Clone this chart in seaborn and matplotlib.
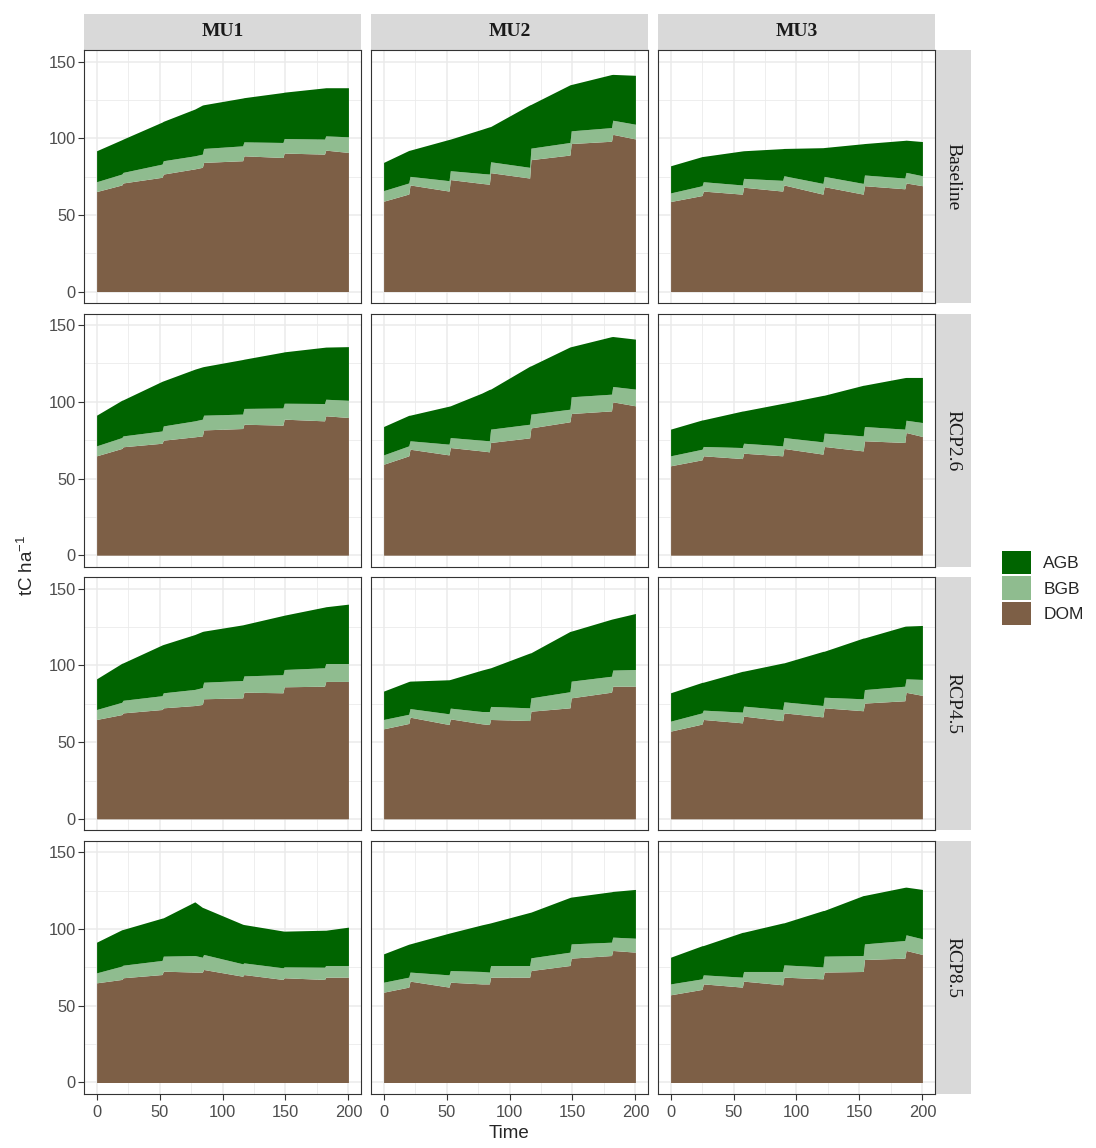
import numpy as np
import pandas as pd
import matplotlib
matplotlib.use("Agg")
import matplotlib.pyplot as plt
import seaborn as sns
from matplotlib.patches import Rectangle, Patch
from matplotlib.ticker import MultipleLocator

# time steps (harvest jumps differ a bit between MU1/MU2 and MU3)
time_mu12 = [0, 20, 21, 52, 53, 78, 84, 85, 116, 117, 148, 149, 181, 182, 200]
time_mu3 = [0, 25, 26, 57, 58, 89, 90, 121, 122, 153, 154, 186, 187, 200]

mus = ["MU1", "MU2", "MU3"]
scenarios = ["Baseline", "RCP2.6", "RCP4.5", "RCP8.5"]
pools = ["AGB", "BGB", "DOM"]

# ---- Baseline
mu1_base_dom = [65.2, 69.5, 70.8, 74.5, 76.6, 80.0, 81.0, 84.2, 85.3, 88.5, 87.4, 90.3, 89.6, 92.2, 90.7]
mu1_base_bgb = [6.4, 7.1, 6.9, 8.6, 8.7, 8.5, 8.6, 9.1, 9.7, 9.1, 9.8, 9.5, 9.8, 9.3, 10.2]
mu1_base_agb = [20.2, 22.4, 21.7, 27.4, 25.7, 30.5, 32.0, 28.5, 31.2, 28.8, 32.6, 30.2, 33.4, 31.4, 32.0]

mu2_base_dom = [58.9, 63.6, 69.5, 65.5, 73.0, 70.5, 70.0, 77.5, 74.0, 86.0, 89.0, 96.5, 98.0, 102.5, 99.5]
mu2_base_bgb = [6.9, 7.2, 5.6, 6.8, 5.8, 6.5, 6.6, 7.1, 7.0, 7.5, 8.2, 8.3, 8.9, 9.2, 9.6]
mu2_base_agb = [18.4, 21.2, 17.1, 26.9, 20.6, 28.8, 30.8, 23.0, 40.7, 28.5, 37.6, 30.2, 34.6, 29.9, 31.9]

mu3_base_dom = [58.7, 62.6, 65.5, 63.5, 68.0, 65.5, 69.5, 63.5, 68.4, 63.5, 69.0, 67.0, 70.8, 69.0]
mu3_base_bgb = [5.6, 6.4, 6.1, 6.0, 5.8, 7.0, 6.0, 7.0, 6.7, 7.0, 7.0, 7.0, 6.9, 6.5]
mu3_base_agb = [17.7, 19.0, 16.5, 22.2, 18.0, 20.7, 17.8, 23.3, 18.8, 25.9, 20.5, 24.6, 21.0, 22.3]

# ---- RCP2.6
mu1_26_dom = [64.8, 69.6, 70.7, 73.0, 75.0, 77.2, 77.8, 81.7, 82.6, 85.4, 84.8, 88.7, 87.6, 90.9, 89.8]
mu1_26_bgb = [6.5, 7.1, 7.1, 8.0, 9.3, 10.4, 10.9, 9.6, 9.4, 10.3, 11.2, 10.4, 11.3, 10.8, 11.2]
mu1_26_agb = [20.0, 24.3, 23.5, 32.4, 29.4, 33.7, 34.1, 31.7, 35.6, 32.1, 36.4, 33.5, 36.7, 34.0, 35.0]

mu2_26_dom = [59.3, 64.8, 69.1, 65.4, 70.2, 68.0, 67.4, 73.5, 76.5, 83.0, 87.0, 92.4, 94.1, 100.0, 97.4]
mu2_26_bgb = [6.1, 6.5, 5.5, 7.0, 6.5, 7.0, 7.2, 8.7, 8.9, 9.0, 8.2, 10.9, 10.9, 10.0, 10.9]
mu2_26_agb = [18.5, 19.9, 16.7, 24.8, 20.7, 30.7, 33.5, 26.1, 37.8, 31.5, 40.6, 32.7, 37.5, 32.6, 32.6]

mu3_26_dom = [58.3, 62.2, 64.8, 63.0, 66.5, 64.8, 69.6, 65.9, 70.9, 68.0, 74.6, 73.5, 80.0, 77.4]
mu3_26_bgb = [6.5, 6.9, 6.1, 7.2, 6.5, 6.5, 7.1, 8.0, 8.7, 9.8, 9.3, 8.7, 8.0, 9.1]
mu3_26_agb = [17.4, 19.1, 17.4, 23.8, 21.1, 27.7, 22.4, 30.3, 24.7, 33.0, 27.0, 33.6, 27.9, 29.4]

# ---- RCP4.5
mu1_45_dom = [64.8, 68.0, 69.1, 71.3, 72.4, 73.9, 74.6, 78.3, 78.9, 82.6, 82.2, 86.1, 86.5, 89.6, 89.6]
mu1_45_bgb = [6.5, 8.0, 8.2, 9.0, 9.8, 10.5, 11.0, 10.8, 11.3, 10.6, 11.8, 11.3, 12.0, 11.7, 11.7]
mu1_45_agb = [20.0, 25.4, 24.4, 33.1, 31.5, 35.8, 36.6, 33.3, 36.3, 33.5, 38.6, 35.4, 39.6, 37.0, 38.7]

mu2_45_dom = [58.7, 62.2, 66.3, 61.5, 65.2, 62.0, 61.5, 64.8, 64.1, 70.2, 72.4, 78.9, 82.6, 86.5, 86.5]
mu2_45_bgb = [6.1, 6.0, 5.6, 7.0, 7.0, 8.0, 8.5, 8.5, 8.3, 8.7, 10.5, 10.9, 10.4, 10.5, 10.9]
mu2_45_agb = [18.5, 21.4, 17.9, 22.2, 18.7, 27.0, 28.3, 25.2, 35.7, 29.4, 39.3, 32.6, 37.2, 33.4, 36.5]

mu3_45_dom = [57.2, 61.8, 64.8, 62.6, 67.0, 64.0, 69.1, 66.5, 72.4, 70.5, 75.5, 77.0, 82.5, 80.5]
mu3_45_bgb = [6.5, 7.3, 6.1, 7.0, 6.5, 7.3, 7.2, 7.4, 6.9, 7.8, 8.8, 9.5, 8.8, 10.4]
mu3_45_agb = [18.5, 19.9, 18.2, 26.6, 22.8, 30.3, 25.4, 35.3, 30.0, 39.6, 33.7, 39.1, 34.4, 35.2]

# ---- RCP8.5
mu1_85_dom = [65.0, 67.2, 68.3, 70.4, 72.6, 72.0, 72.0, 73.7, 69.3, 70.4, 67.2, 68.3, 67.2, 68.7, 68.7]
mu1_85_bgb = [6.5, 8.7, 8.2, 9.2, 9.8, 10.8, 9.7, 9.8, 8.1, 7.6, 7.6, 7.1, 8.0, 7.6, 7.6]
mu1_85_agb = [20.0, 23.7, 23.3, 27.6, 25.0, 35.0, 32.5, 30.4, 25.8, 25.0, 24.0, 23.3, 24.1, 23.0, 25.0]

mu2_85_dom = [58.9, 62.2, 66.1, 62.2, 65.4, 64.3, 64.3, 68.7, 68.7, 73.0, 76.3, 81.1, 82.8, 86.1, 85.0]
mu2_85_bgb = [6.5, 6.5, 5.9, 8.0, 7.6, 8.1, 7.7, 7.6, 7.6, 8.3, 8.7, 9.3, 8.7, 8.7, 9.1]
mu2_85_agb = [18.5, 21.5, 18.4, 27.2, 24.6, 30.4, 31.9, 27.8, 34.6, 29.8, 35.7, 30.5, 32.9, 29.8, 31.8]

mu3_85_dom = [57.2, 60.7, 64.3, 62.2, 66.1, 63.7, 68.7, 67.6, 72.0, 72.4, 80.2, 81.1, 86.1, 83.5]
mu3_85_bgb = [7.1, 6.9, 5.9, 6.5, 6.3, 8.7, 8.0, 7.8, 10.4, 10.4, 10.2, 11.5, 10.2, 10.2]
mu3_85_agb = [17.4, 21.6, 19.1, 29.2, 25.6, 31.6, 27.4, 36.7, 29.8, 39.1, 31.6, 34.7, 31.1, 32.2]

panels = [
    ("MU1", "Baseline", time_mu12, mu1_base_dom, mu1_base_bgb, mu1_base_agb),
    ("MU2", "Baseline", time_mu12, mu2_base_dom, mu2_base_bgb, mu2_base_agb),
    ("MU3", "Baseline", time_mu3, mu3_base_dom, mu3_base_bgb, mu3_base_agb),
    ("MU1", "RCP2.6", time_mu12, mu1_26_dom, mu1_26_bgb, mu1_26_agb),
    ("MU2", "RCP2.6", time_mu12, mu2_26_dom, mu2_26_bgb, mu2_26_agb),
    ("MU3", "RCP2.6", time_mu3, mu3_26_dom, mu3_26_bgb, mu3_26_agb),
    ("MU1", "RCP4.5", time_mu12, mu1_45_dom, mu1_45_bgb, mu1_45_agb),
    ("MU2", "RCP4.5", time_mu12, mu2_45_dom, mu2_45_bgb, mu2_45_agb),
    ("MU3", "RCP4.5", time_mu3, mu3_45_dom, mu3_45_bgb, mu3_45_agb),
    ("MU1", "RCP8.5", time_mu12, mu1_85_dom, mu1_85_bgb, mu1_85_agb),
    ("MU2", "RCP8.5", time_mu12, mu2_85_dom, mu2_85_bgb, mu2_85_agb),
    ("MU3", "RCP8.5", time_mu3, mu3_85_dom, mu3_85_bgb, mu3_85_agb),
]

df = pd.concat(
    [pd.DataFrame({"MU": mu, "scenario": sc, "time": t, "DOM": d, "BGB": b, "AGB": a})
     for mu, sc, t, d, b, a in panels],
    ignore_index=True,
)

colors = {"AGB": "#006400", "BGB": "#8FBC8F", "DOM": "#7D5F46"}

sns.set_theme(style="white")
plt.rcParams["font.family"] = ["Liberation Sans", "DejaVu Sans"]
plt.rcParams["mathtext.default"] = "regular"


def stacked_area(data, **kws):
    ax = plt.gca()
    ax.stackplot(data["time"], data["DOM"], data["BGB"], data["AGB"],
                 colors=[colors["DOM"], colors["BGB"], colors["AGB"]],
                 linewidth=0, zorder=2)


g = sns.FacetGrid(df, row="scenario", col="MU", row_order=scenarios, col_order=mus,
                  sharex=True, sharey=True, height=2.5, aspect=1.1, despine=False)
g.map_dataframe(stacked_area)
g.set_titles(template="")
g.set_axis_labels("", "")

nrows, ncols = g.axes.shape
for i in range(nrows):
    for j in range(ncols):
        ax = g.axes[i, j]
        ax.set_xlim(-10, 210)
        ax.set_ylim(-7.5, 157.5)
        ax.set_xticks([0, 50, 100, 150, 200])
        ax.set_yticks([0, 50, 100, 150])
        ax.xaxis.set_minor_locator(MultipleLocator(25))
        ax.yaxis.set_minor_locator(MultipleLocator(25))
        ax.set_axisbelow(True)
        ax.grid(which="major", color="#EBEBEB", linewidth=1.1, zorder=0)
        ax.grid(which="minor", color="#EBEBEB", linewidth=0.6, zorder=0)
        ax.tick_params(which="major", direction="out", length=4, width=0.8, color="#333333",
                       labelcolor="#4D4D4D", labelsize=11.8, pad=2,
                       bottom=(i == nrows - 1), left=(j == 0))
        ax.tick_params(axis="x", pad=4)
        ax.tick_params(which="minor", length=0)
        for sp in ax.spines.values():
            sp.set_color("#333333")
            sp.set_linewidth(0.8)

fig = g.figure
fig.set_size_inches(10.96, 11.48)
fig.subplots_adjust(left=84 / 1096, right=935 / 1096, top=1 - 50 / 1148,
                    bottom=1 - 1094 / 1148, wspace=0.036, hspace=0.042)

# strips (ggplot style)
strip_h = 36 / 253
for ax, mu in zip(g.axes[0], mus):
    ax.add_patch(Rectangle((0, 1), 1, strip_h, transform=ax.transAxes, clip_on=False,
                           facecolor="#D9D9D9", edgecolor="none"))
    ax.text(0.5, 1 + strip_h / 2, mu, transform=ax.transAxes, ha="center", va="center",
            family="Liberation Serif", weight="bold", fontsize=14, color="#1A1A1A")

strip_w = 36 / 277
for ax, sc in zip(g.axes[:, -1], scenarios):
    ax.add_patch(Rectangle((1, 0), strip_w, 1, transform=ax.transAxes, clip_on=False,
                           facecolor="#D9D9D9", edgecolor="none"))
    ax.text(1 + strip_w / 2, 0.5, sc, transform=ax.transAxes, ha="center", va="center",
            rotation=-90, family="Liberation Serif", fontsize=14, color="#1A1A1A")

fig.text(509 / 1096, 1 - 1134 / 1148, "Time", ha="center", va="center", fontsize=13.5)
fig.text(27 / 1096, 1 - 565 / 1148, "tC ha$^{-1}$", ha="center", va="center",
         rotation=90, fontsize=13.5)

handles = [Patch(facecolor=colors[p], edgecolor="none", label=p) for p in pools]
fig.legend(handles=handles, loc="center left", bbox_to_anchor=(986 / 1096, 1 - 588 / 1148),
           frameon=False, fontsize=12.5, handlelength=1.7, handleheight=1.7,
           labelspacing=0.13, handletextpad=0.7)

fig.savefig("out.png", dpi=100)
